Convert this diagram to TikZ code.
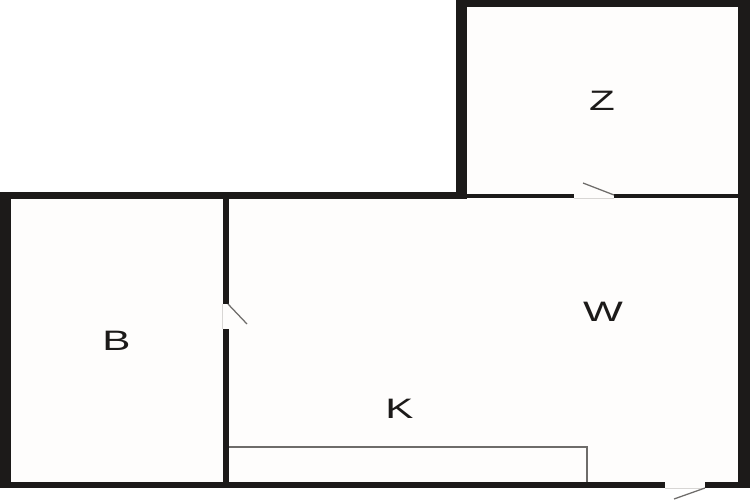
\documentclass[tikz,border=0pt]{standalone}
\usepackage{fontspec}
\setmainfont{Liberation Sans}
\definecolor{wallcol}{HTML}{1C1A19}
\definecolor{roomcol}{HTML}{FEFDFC}
\definecolor{doorcol}{HTML}{6E6C6A}
\definecolor{gapcol}{HTML}{D8D6D4}
\tikzset{
    wall/.style ={
        draw=none,
        fill=wallcol
    },
    room/.style ={
        draw=none,
        fill=roomcol
    },
    doorleaf/.style ={
        draw=doorcol,
        line width=0.25mm
    },
    doorgap/.style ={
        draw=gapcol,
        line width=0.15mm
    },
    roomlabel/.style ={
        text=wallcol,
        inner sep=0pt,
        xscale=1.5,
        font=\fontsize{16pt}{16pt}\selectfont
    }
}
\begin{document}
\begin{tikzpicture}[x=0.2mm,y=-0.2mm]
    \useasboundingbox (0,0) rectangle (750,500);
    \fill[white] (0,0) rectangle (750,500);
    % rooms
    \fill[room] (456,0) rectangle (750,199);
    \fill[room] (0,192) rectangle (750,488);
    % outer walls
    \fill[wall] (456,0) rectangle (750,7);
    \fill[wall] (456,0) rectangle (467,199);
    \fill[wall] (738,0) rectangle (750,488);
    \fill[wall] (0,192) rectangle (467,199);
    \fill[wall] (0,192) rectangle (11,488);
    \fill[wall] (0,482) rectangle (665,488);
    \fill[wall] (705,482) rectangle (750,488);
    % inner walls
    \fill[wall] (467,194) rectangle (574,198);
    \fill[wall] (614,194) rectangle (738,198);
    \fill[wall] (223,199) rectangle (229,304);
    \fill[wall] (223,329) rectangle (229,482);
    % door gaps
    \draw[doorgap] (574,198) -- (614,198);
    \draw[doorgap] (665,488) -- (705,488);
    \draw[doorgap] (222,304) -- (222,329);
    % doors
    \draw[doorleaf] (583,183) -- (614,195);
    \draw[doorleaf] (228,304) -- (247,324);
    \draw[doorleaf] (705,488) -- (674,499);
    % counter
    \draw[doorleaf,line width=0.3mm] (229,447) -- (587,447) -- (587,482);
    % labels
    \node[roomlabel] (Z) at (602,100.5) {Z};
    \node[roomlabel] (W) at (603,312) {W};
    \node[roomlabel] (B) at (116.5,340.5) {B};
    \node[roomlabel] (K) at (399.5,408.5) {K};
\end{tikzpicture}
\end{document}
